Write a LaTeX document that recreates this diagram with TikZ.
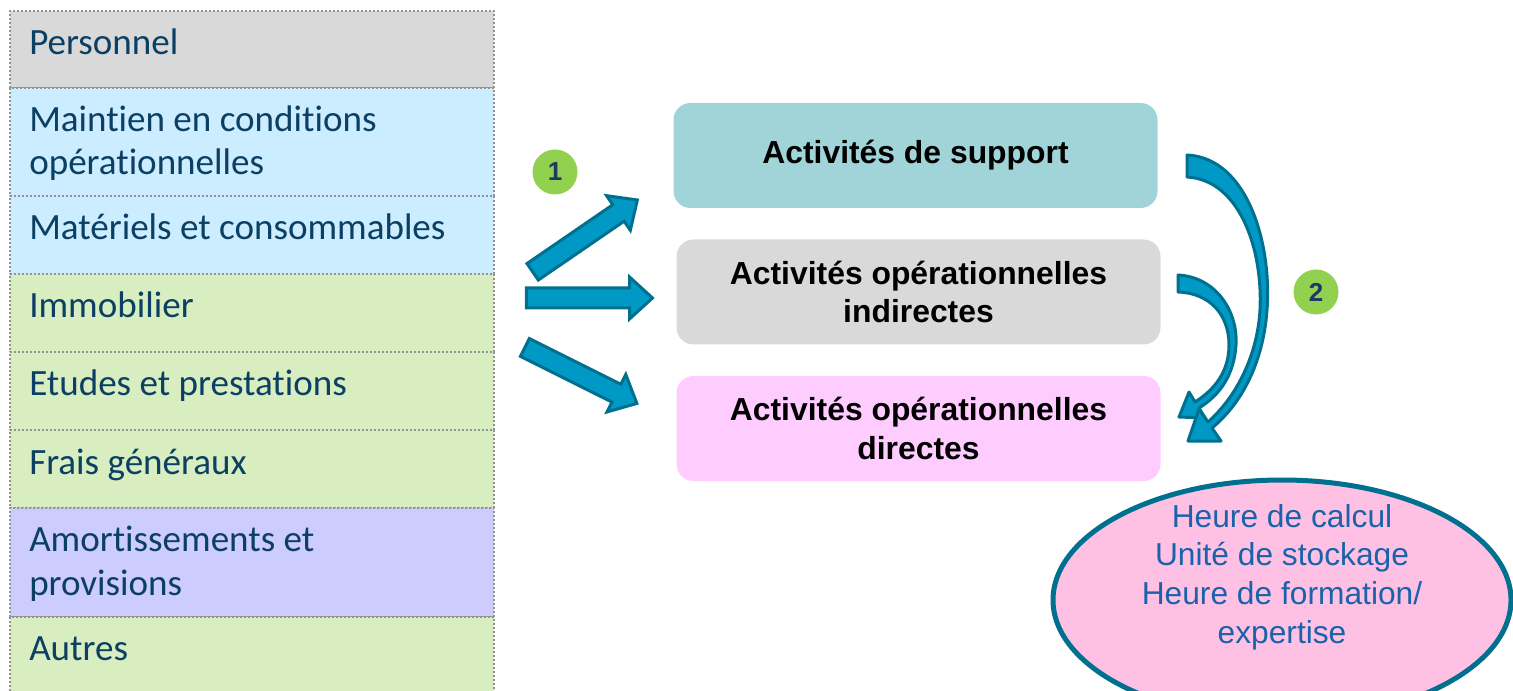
\documentclass[tikz,border=0pt]{standalone}
\usepackage{fontspec}
\newfontfamily\calibri[Ligatures=NoCommon]{Carlito}
\newfontfamily\arial{Liberation Sans}
\usetikzlibrary{calc,shapes.geometric,shapes.arrows}
\def\px{0.75pt}

\definecolor{texte}{HTML}{0B3F63}
\definecolor{gris}{HTML}{D9D9D9}
\definecolor{bleuclair}{HTML}{CCECFF}
\definecolor{vertclair}{HTML}{D8EDC0}
\definecolor{lilas}{HTML}{CCCCFF}
\definecolor{turquoise}{HTML}{A0D4D8}
\definecolor{rose}{HTML}{FFCCFF}
\definecolor{roseovale}{HTML}{FFC1E3}
\definecolor{flechebleu}{HTML}{0099C6}
\definecolor{flecherand}{HTML}{00708F}
\definecolor{vert}{HTML}{92D050}
\definecolor{chiffre}{HTML}{1F3864}
\definecolor{unite}{HTML}{1A62AA}

\begin{document}
\begin{tikzpicture}[x=\px,y=-\px,
  ligne/.style={rectangle, draw=gray!85, line width=2*\px, dash pattern=on 1.5pt off 1.5pt,
    anchor=north west, minimum width=484*\px, inner sep=0pt},
  libelle/.style={anchor=base west, align=left, inner sep=0pt, text=texte,
    font=\calibri\fontsize{27.8}{32.3}\selectfont},
  activite/.style={rectangle, rounded corners=17*\px, minimum width=484*\px,
    minimum height=105*\px, inner sep=0pt, align=center,
    font=\arial\bfseries\fontsize{23.9}{29.2}\selectfont},
  flechebloc/.style={single arrow, draw=flecherand, fill=flechebleu, line width=3*\px,
    inner xsep=0pt, inner ysep=8.5*\px, minimum width=38*\px,
    single arrow head extend=11*\px, single arrow tip angle=85},
  fleche/.style={draw=flecherand, fill=flechebleu, line width=3*\px, line join=round},
  cercle/.style={circle, fill=vert, minimum size=45*\px, inner sep=0pt, text=chiffre,
    font=\arial\bfseries\fontsize{19.5}{19.5}\selectfont}]

\useasboundingbox (0,0) rectangle (1513,691);
\clip (0,0) rectangle (1513,691);

\def\fleche#1#2#3{
  \path let \p1=($(#3)-(#2)$) in ($(#2)!.5!(#3)$)
    node[flechebloc, rotate={atan2(\y1,\x1)}, minimum height={veclen(\x1,\y1)}] (#1) {};
}

% postes de couts (base = ligne de base de la derniere ligne)
\foreach \nom/\haut/\bas/\base/\couleur/\texte in {
    perso/10/87/45/gris/Personnel,
    mco/87/195/88/bleuclair/{Maintien en conditions\\opérationnelles},
    materiels/195/273/45/bleuclair/Matériels et consommables,
    immo/273/351/45/vertclair/Immobilier,
    etudes/351/429/45/vertclair/Etudes et prestations,
    frais/429/507/45/vertclair/Frais généraux,
    amort/507/616/88/lilas/{Amortissements et\\provisions},
    autres/616/700/44/vertclair/Autres}{
  \node[ligne, fill=\couleur, minimum height={(\bas-\haut)*\px}] (\nom) at (9,\haut) {};
  \node[libelle] (t\nom) at ($(\nom.north west)+(20,\base)$) {\texte};
}

% activites
\node[activite, fill=turquoise] (support) at (915.5,155.5) {Activités de support};
\node[activite, fill=gris] (indirectes) at (918.5,292) {Activités opérationnelles\\indirectes};
\node[activite, fill=rose] (directes) at (918.5,428.5) {Activités opérationnelles\\directes};

% unites d'oeuvre
\node[ellipse, draw=flecherand, line width=5*\px, fill=roseovale,
  minimum width=458*\px, minimum height=240*\px] (ovale) at (1282,600) {};
\node[align=center, inner sep=0pt, text=unite, font=\arial\fontsize{23.8}{28.9}\selectfont]
  (unites) at (1282,577) {Heure de calcul\\Unité de stockage\\Heure de formation/\\expertise};

% etape 1
\coordinate (a1) at (528,275);
\coordinate (b1) at (633,203);
\coordinate (a2) at (521,298);
\coordinate (b2) at (647,298);
\coordinate (a3) at (520,345);
\coordinate (b3) at (632,401);
\fleche{f1}{a1}{b1}
\fleche{f2}{a2}{b2}
\fleche{f3}{a3}{b3}
\node[cercle] (un) at (555,172) {1};

% etape 2
\draw[fleche] (1178,275) .. controls (1215,277) and (1238,310) .. (1236,345)
  .. controls (1234,375) and (1220,395) .. (1199,408)
  -- (1205,418) -- (1179,417) -- (1189,392) -- (1195,402)
  .. controls (1214,390) and (1229,372) .. (1229,345)
  .. controls (1229,315) and (1210,293) .. (1178,292) -- cycle;
\draw[fleche] (1187,155) .. controls (1248,158) and (1272,245) .. (1267,310)
  .. controls (1263,365) and (1240,405) .. (1212,428)
  -- (1221,441) -- (1188,441) -- (1199,409) -- (1208,422)
  .. controls (1233,400) and (1257,360) .. (1260,310)
  .. controls (1263,250) and (1240,180) .. (1187,177) -- cycle;
\node[cercle] (deux) at (1316,292) {2};

\end{tikzpicture}
\end{document}
